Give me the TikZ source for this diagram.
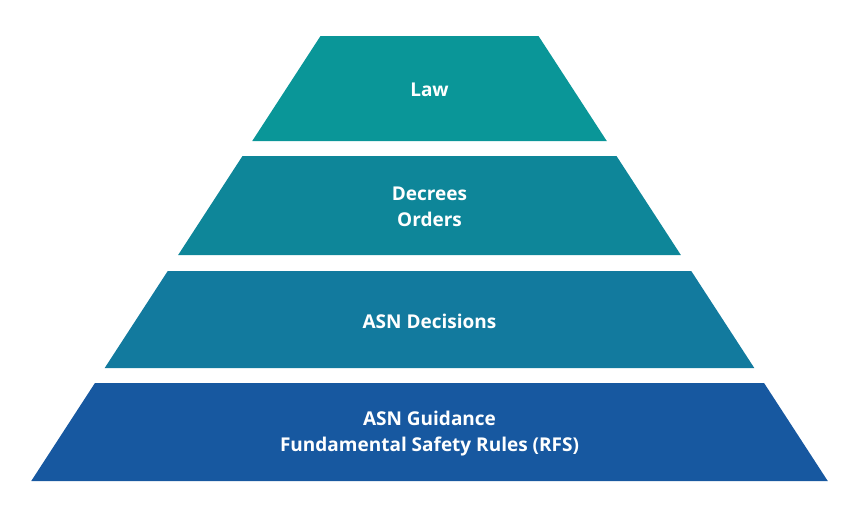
\documentclass[tikz,border=0pt]{standalone}
\usepackage{fontspec}
\setmainfont{Open Sans}
\definecolor{tierA}{RGB}{10,150,152}
\definecolor{tierB}{RGB}{14,134,153}
\definecolor{tierC}{RGB}{18,122,158}
\definecolor{tierD}{RGB}{23,88,160}
\begin{document}
\begin{tikzpicture}[x=1pt,y=-1pt,
  lbl/.style={text=white,font=\bfseries\fontsize{19}{25.5}\selectfont,align=center}]
\useasboundingbox (0,0) rectangle (861,531);
\def\cx{429.5}
% half width w(y) = 109 + 0.65 (y-36)
\newcommand\tier[4]{%
  \pgfmathsetmacro\wa{109+0.65*(#1-36)}%
  \pgfmathsetmacro\wb{109+0.65*(#2-36)}%
  \fill[#3] (\cx-\wa,#1) -- (\cx+\wa,#1) -- (\cx+\wb,#2) -- (\cx-\wb,#2) -- cycle;
  \coordinate (#4) at (\cx,{(#1+#2)/2+1.5});
}
\tier{36}{141}{tierA}{t1}
\tier{156}{255}{tierB}{t2}
\tier{271}{368}{tierC}{t3}
\tier{383}{481}{tierD}{t4}
\node[lbl] (l1) at (t1) {Law};
\node[lbl] (l2) at (t2) {Decrees\\Orders};
\node[lbl] (l3) at (t3) {ASN Decisions};
\node[lbl] (l4) at (t4) {ASN Guidance\\Fundamental Safety Rules (RFS)};
\end{tikzpicture}
\end{document}
